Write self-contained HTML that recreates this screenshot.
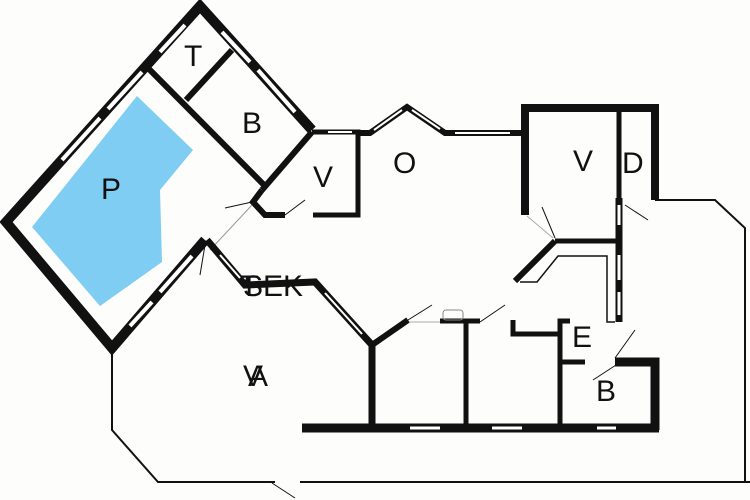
<!DOCTYPE html>
<html><head><meta charset="utf-8"><style>
html,body{margin:0;padding:0;background:#fff;width:750px;height:500px;overflow:hidden}
svg{display:block}
text{font-family:"Liberation Sans",sans-serif;fill:#111}
</style></head><body>
<svg width="750" height="500" viewBox="0 0 750 500" xmlns="http://www.w3.org/2000/svg">
<rect width="750" height="500" fill="#fdfdfc"/>
<!-- terrace outline -->
<polyline points="112,350 112,430 158,482 275,482" fill="none" stroke="#111" stroke-width="2"/>
<polyline points="300,482 750,482" fill="none" stroke="#111" stroke-width="2"/>
<polyline points="655,200 715,200 745,228 745,482" fill="none" stroke="#111" stroke-width="2"/>
<line x1="272" y1="483" x2="295" y2="498" stroke="#111" stroke-width="1"/>
<!-- pool -->
<polygon points="32,227 137,96 193,150 160,190 162,262 100,306" fill="#7fcdf2"/>
<!-- pool building outer -->
<polyline points="312,130 200,6 6,222 112,348 205,240" fill="none" stroke="#111" stroke-width="10" stroke-linejoin="miter"/>
<g stroke="#fff" stroke-width="4" fill="none">
<line x1="62" y1="160" x2="100" y2="118"/><line x1="108" y1="109" x2="142" y2="72"/>
<line x1="160" y1="52" x2="185" y2="25"/>
<line x1="258" y1="70" x2="295" y2="112"/><line x1="222" y1="32" x2="250" y2="62"/>
<line x1="130" y1="326" x2="152" y2="302"/><line x1="160" y1="292" x2="192" y2="256"/>
</g>
<!-- interior walls -->
<line x1="148" y1="68" x2="265" y2="186" stroke="#111" stroke-width="6"/>
<line x1="232" y1="50" x2="186" y2="100" stroke="#111" stroke-width="6"/>
<line x1="312" y1="132" x2="262" y2="190" stroke="#111" stroke-width="6"/>
<polyline points="262,190 253,202 265,215 285,215" fill="none" stroke="#111" stroke-width="6"/>
<polyline points="313,215 358,215 358,132 312,132" fill="none" stroke="#111" stroke-width="5"/>
<line x1="328" y1="132" x2="352" y2="132" stroke="#fff" stroke-width="2"/>
<line x1="285" y1="215" x2="305" y2="200" stroke="#111" stroke-width="1"/>
<line x1="225" y1="208" x2="252" y2="202" stroke="#111" stroke-width="1"/>
<line x1="252" y1="205" x2="210" y2="250" stroke="#999" stroke-width="1"/>
<line x1="205" y1="245" x2="200" y2="275" stroke="#111" stroke-width="1"/>
<!-- O top wall -->
<polyline points="358,133 370,133 407,107 445,133 522,133" fill="none" stroke="#111" stroke-width="6"/>
<g stroke="#fff" stroke-width="2"><line x1="374" y1="130" x2="402" y2="110"/><line x1="412" y1="110" x2="440" y2="129"/><line x1="455" y1="133" x2="510" y2="133"/></g>
<!-- V D room -->
<polyline points="525,215 525,108 655,108 655,200" fill="none" stroke="#111" stroke-width="8"/>
<line x1="619" y1="112" x2="619" y2="200" stroke="#111" stroke-width="5"/>
<line x1="619" y1="198" x2="619" y2="322" stroke="#111" stroke-width="7"/>
<g stroke="#fff" stroke-width="3"><line x1="619" y1="205" x2="619" y2="225"/><line x1="619" y1="255" x2="619" y2="280"/><line x1="619" y1="292" x2="619" y2="315"/></g>
<line x1="555" y1="241" x2="617" y2="241" stroke="#111" stroke-width="5"/>
<line x1="555" y1="241" x2="515" y2="281" stroke="#111" stroke-width="6"/>
<polyline points="520,282 537,282 558,256 607,256 607,322 615,322" fill="none" stroke="#111" stroke-width="1.5"/>
<line x1="542" y1="207" x2="555" y2="238" stroke="#111" stroke-width="1"/>
<line x1="527" y1="216" x2="553" y2="238" stroke="#aaa" stroke-width="1"/>
<line x1="625" y1="205" x2="648" y2="220" stroke="#111" stroke-width="1"/>
<!-- SE K wall -->
<polyline points="207,240 245,285 315,282 372,345" fill="none" stroke="#111" stroke-width="7"/>
<g stroke="#fff" stroke-width="2"><line x1="220" y1="255" x2="240" y2="278"/><line x1="325" y1="293" x2="362" y2="334"/></g>
<line x1="372" y1="345" x2="372" y2="425" stroke="#111" stroke-width="7"/>
<line x1="372" y1="345" x2="408" y2="320" stroke="#111" stroke-width="6"/>
<line x1="408" y1="320" x2="432" y2="305" stroke="#111" stroke-width="1"/>
<line x1="410" y1="322" x2="440" y2="322" stroke="#aaa" stroke-width="1"/>
<line x1="440" y1="321" x2="480" y2="321" stroke="#111" stroke-width="5"/>
<line x1="466" y1="321" x2="466" y2="428" stroke="#111" stroke-width="5"/>
<line x1="480" y1="322" x2="505" y2="305" stroke="#111" stroke-width="1"/>
<rect x="443" y="310" width="20" height="10" rx="3" fill="none" stroke="#888" stroke-width="1"/>
<!-- E / B -->
<polyline points="513,320 513,334 560,334" fill="none" stroke="#111" stroke-width="5"/>
<polyline points="570,321 560,321 560,428" fill="none" stroke="#111" stroke-width="5"/>
<line x1="560" y1="362" x2="585" y2="362" stroke="#111" stroke-width="5"/>
<polyline points="615,362 655,362 655,430" fill="none" stroke="#111" stroke-width="9"/>
<line x1="615" y1="358" x2="635" y2="330" stroke="#111" stroke-width="1"/>
<line x1="593" y1="380" x2="616" y2="365" stroke="#111" stroke-width="1"/>
<line x1="302" y1="428" x2="659" y2="428" stroke="#111" stroke-width="9"/>
<g stroke="#fff" stroke-width="3"><line x1="410" y1="428" x2="440" y2="428"/><line x1="492" y1="428" x2="522" y2="428"/><line x1="597" y1="428" x2="616" y2="428"/></g>
<!-- labels -->
<g font-size="30">
<text x="101" y="199">P</text><text x="184" y="66">T</text><text x="242" y="133">B</text>
<text x="313" y="187">V</text><text x="393" y="173">O</text><text x="573" y="171">V</text>
<text x="622" y="173">D</text><text x="572" y="347">E</text><text x="596" y="401">B</text>
<text x="243" y="386">V</text><text x="248" y="386">A</text>
<text x="240" y="296">T</text><text x="243" y="296">SEK</text>
</g>
</svg>
</body></html>
